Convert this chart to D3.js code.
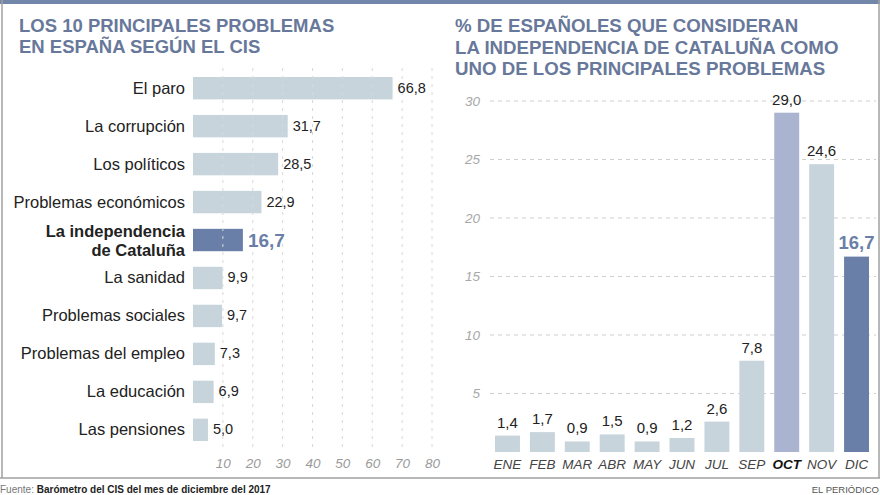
<!DOCTYPE html>
<html><head><meta charset="utf-8">
<script src="https://cdn.jsdelivr.net/npm/d3@7"></script>
<style>
html,body{margin:0;padding:0;background:#fff;}
svg{display:block;font-family:"Liberation Sans",Arial,Helvetica,sans-serif;}
</style></head>
<body>
<svg id="c" width="880" height="495"></svg>
<script>
// ---- data ----
const problems = ["El paro","La corrupción","Los políticos","Problemas económicos","La independencia de Cataluña","La sanidad","Problemas sociales","Problemas del empleo","La educación","Las pensiones"];
const problemValues = [66.8,31.7,28.5,22.9,16.7,9.9,9.7,7.3,6.9,5.0];
const problemTicks = [10,20,30,40,50,60,70,80];
const highlightProblem = "La independencia de Cataluña";

const months = ["ENE","FEB","MAR","ABR","MAY","JUN","JUL","SEP","OCT","NOV","DIC"];
const monthValues = [1.4,1.7,0.9,1.5,0.9,1.2,2.6,7.8,29.0,24.6,16.7];
const monthTicks = [5,10,15,20,25,30];

const leftTitle = ["LOS 10 PRINCIPALES PROBLEMAS","EN ESPAÑA SEGÚN EL CIS"];
const rightTitle = ["% DE ESPAÑOLES QUE CONSIDERAN","LA INDEPENDENCIA DE CATALUÑA COMO","UNO DE LOS PRINCIPALES PROBLEMAS"];

const fmt = v => d3.format(".1f")(v).replace(".", ",");

const C = {light:"#c7d4dc", dark:"#6a7fa8", oct:"#aab3cf", title:"#68789a", text:"#222", axis:"#9a9a9a", grid:"#cfcfcf", border:"#a0a0a0"};

const svg = d3.select("#c");

// frame
svg.append("rect").attr("x",0).attr("y",0).attr("width",880).attr("height",4).attr("fill","#7186a8");
svg.append("line").attr("x1",2).attr("x2",2).attr("y1",0).attr("y2",478).attr("stroke",C.border).attr("stroke-width",1.5);
svg.append("line").attr("x1",879).attr("x2",879).attr("y1",0).attr("y2",478).attr("stroke",C.border).attr("stroke-width",1.5);
svg.append("line").attr("x1",0).attr("x2",880).attr("y1",478).attr("y2",478).attr("stroke",C.border).attr("stroke-width",1.5);

// titles
svg.append("g").selectAll("text").data(leftTitle).join("text")
  .attr("x",19).attr("y",(d,i)=>32+i*21).attr("fill",C.title)
  .attr("font-size",18.5).attr("font-weight","bold").text(d=>d);
svg.append("g").selectAll("text").data(rightTitle).join("text")
  .attr("x",455).attr("y",(d,i)=>32+i*21.5).attr("fill",C.title)
  .attr("font-size",18.7).attr("font-weight","bold").text(d=>d);

// ---- left chart ----
const x = d3.scaleLinear().domain([0,80]).range([193,432]);
const y = d3.scaleBand().domain(problems).range([58,460]).paddingInner(0.41).paddingOuter(0.5);
const L = svg.append("g");
const rows = problems.map((p,i)=>({p, v:problemValues[i], hi:p===highlightProblem}));

L.selectAll("rect.bar").data(rows).join("rect").attr("class","bar")
  .attr("x",x(0)).attr("y",d=>y(d.p)).attr("width",d=>x(d.v)-x(0)).attr("height",y.bandwidth())
  .attr("fill",d=>d.hi?C.dark:C.light);

// grid on top (light dashed)
L.selectAll("line.g").data(problemTicks).join("line").attr("class","g")
  .attr("x1",d=>x(d)).attr("x2",d=>x(d)).attr("y1",68).attr("y2",450)
  .attr("stroke","#d8d8d8").attr("stroke-dasharray","3,5").attr("stroke-width",1);

// x axis labels
const xAxis = d3.axisBottom(x).tickValues(problemTicks).tickSize(0).tickPadding(0);
const xa = L.append("g").attr("transform","translate(0,458)").call(xAxis);
xa.select(".domain").remove();
xa.selectAll("text").attr("font-size",13.5).attr("font-style","italic").attr("fill",C.axis)
  .attr("font-family","Liberation Sans, Arial, sans-serif");

// category labels
L.selectAll("text.cat").data(rows).join("text").attr("class","cat")
  .attr("x",185).attr("text-anchor","end").attr("fill",C.text)
  .attr("font-size",16.5).attr("font-weight",d=>d.hi?"bold":"normal")
  .each(function(d){
    const t = d3.select(this);
    const cy = y(d.p)+y.bandwidth()/2;
    if(d.hi){
      t.append("tspan").attr("x",185).attr("y",cy-3).text("La independencia");
      t.append("tspan").attr("x",185).attr("y",cy+16).text("de Cataluña");
    } else {
      t.attr("y",cy+5.5).text(d.p);
    }
  });

// value labels
L.selectAll("text.val").data(rows).join("text").attr("class","val")
  .attr("x",d=>x(d.v)+(d.hi?5:5)).attr("y",d=>y(d.p)+y.bandwidth()/2+(d.hi?6.5:4.5))
  .attr("fill",d=>d.hi?C.dark:C.text).attr("font-weight",d=>d.hi?"bold":"normal")
  .attr("font-size",d=>d.hi?19:14.5).text(d=>fmt(d.v));

// ---- right chart ----
const xb = d3.scaleBand().domain(months).range([495,869]).paddingInner(0.2857).paddingOuter(0);
const yr = d3.scaleLinear().domain([0,30]).range([452,101]);
const R = svg.append("g");

R.selectAll("line.g").data(monthTicks).join("line").attr("class","g")
  .attr("x1",490).attr("x2",876).attr("y1",d=>yr(d)).attr("y2",d=>yr(d))
  .attr("stroke",C.grid).attr("stroke-dasharray","4,4").attr("stroke-width",1);

const yAxis = d3.axisLeft(yr).tickValues(monthTicks).tickSize(0).tickPadding(0);
const ya = R.append("g").attr("transform","translate(480,0)").call(yAxis);
ya.select(".domain").remove();
ya.selectAll("text").attr("font-size",13.5).attr("font-style","italic").attr("fill","#a8a8a8")
  .attr("font-family","Liberation Sans, Arial, sans-serif");

const mrows = months.map((m,i)=>({m, v:monthValues[i]}));
const barColor = m => m==="OCT"?C.oct:(m==="DIC"?C.dark:C.light);
R.selectAll("rect.bar").data(mrows).join("rect").attr("class","bar")
  .attr("x",d=>xb(d.m)).attr("y",d=>yr(d.v)).attr("width",xb.bandwidth()).attr("height",d=>yr(0)-yr(d.v))
  .attr("fill",d=>barColor(d.m));

R.selectAll("text.val").data(mrows).join("text").attr("class","val")
  .attr("x",d=>xb(d.m)+xb.bandwidth()/2).attr("y",d=>yr(d.v)-8)
  .attr("text-anchor","middle").attr("fill",d=>d.m==="DIC"?C.dark:C.text)
  .attr("font-weight",d=>d.m==="DIC"?"bold":"normal").attr("font-size",d=>d.m==="DIC"?18.5:15)
  .text(d=>fmt(d.v));

const xbAxis = d3.axisBottom(xb).tickSize(0).tickPadding(0);
const xba = R.append("g").attr("transform","translate(0,459)").call(xbAxis);
xba.select(".domain").remove();
xba.selectAll("text").attr("font-size",13.5).attr("font-style","italic")
  .attr("font-family","Liberation Sans, Arial, sans-serif")
  .attr("font-weight",d=>d==="OCT"?"bold":"normal").attr("fill",d=>d==="OCT"?"#111":"#444");

// footer
const f = svg.append("text").attr("x",0).attr("y",493).attr("font-size",10);
f.append("tspan").attr("fill","#777").text("Fuente: ");
f.append("tspan").attr("fill","#222").attr("font-weight","bold").text("Barómetro del CIS del mes de diciembre del 2017");
svg.append("text").attr("x",879).attr("y",493).attr("text-anchor","end").attr("font-size",9.5).attr("fill","#555").text("EL PERIÓDICO");
</script>
</body></html>
